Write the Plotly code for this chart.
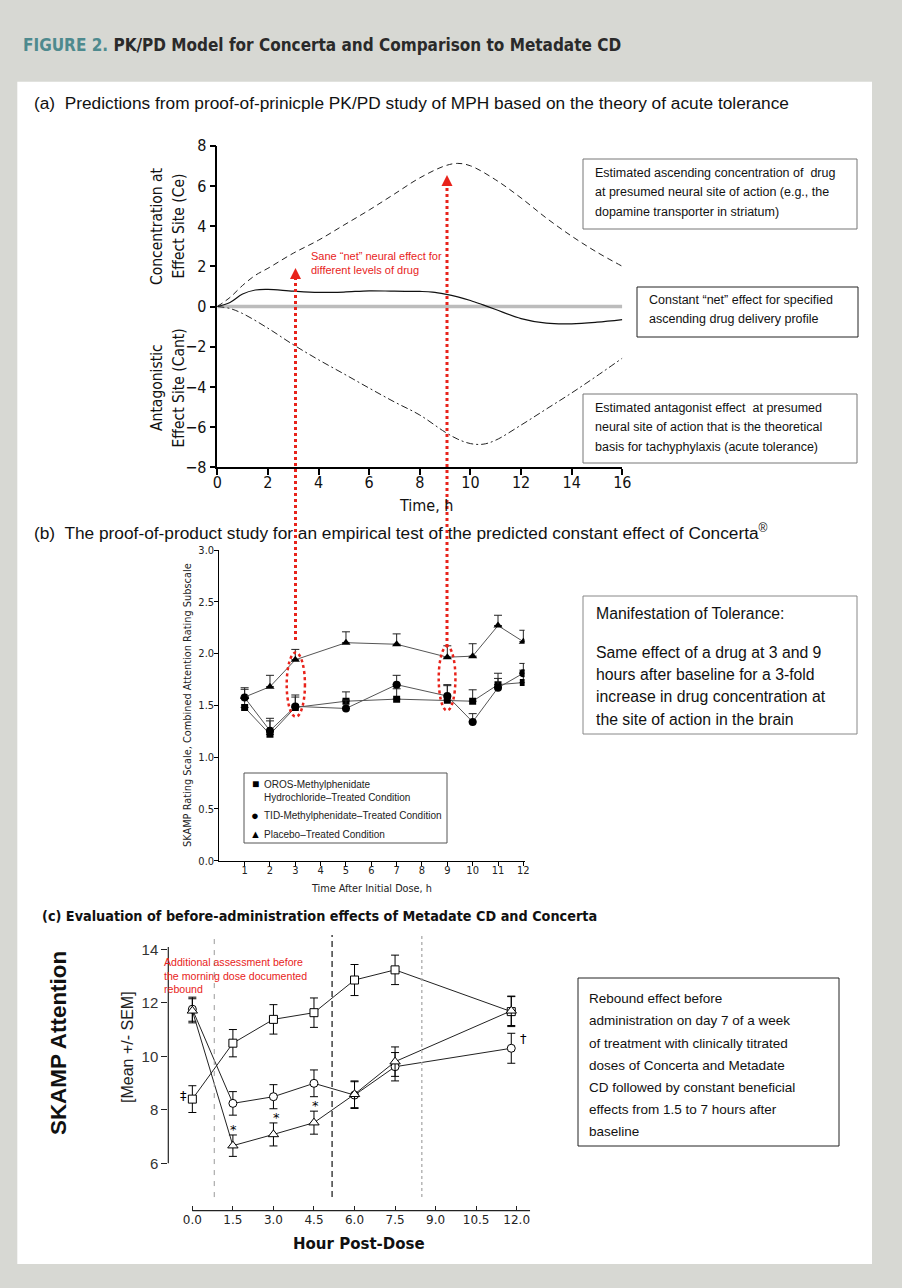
import plotly.graph_objects as go

W, H = 902, 1288


def fx(px):
    return px / W


def fy(py):
    return 1 - py / H


NARROW = "DejaVu Sans Condensed, Liberation Sans Narrow, Liberation Sans, sans-serif"
SANS = "Liberation Sans, Arial, sans-serif"
DEJAVU = "DejaVu Sans, sans-serif"
RED = "#e8231b"

# ---------------- Panel (a): PK/PD model ----------------
t_ce = [0, 0.5, 1, 1.5, 2, 3, 4, 5, 6, 7, 8, 9, 9.5, 10, 11, 12, 13, 14, 15, 16]
ce = [0, 0.45, 1.05, 1.55, 1.9, 2.65, 3.3, 4.05, 4.8, 5.6, 6.4, 7.0, 7.12, 7.0, 6.3, 5.4, 4.4, 3.5, 2.7, 2.0]

t_cant = [0, 0.5, 1, 2, 3, 4, 5, 6, 7, 8, 9, 9.5, 10, 10.5, 11, 12, 13, 14, 15, 16]
cant = [0, -0.1, -0.35, -1.08, -1.9, -2.65, -3.35, -4.06, -4.75, -5.4, -6.25, -6.6, -6.82, -6.85, -6.65,
        -5.9, -5.1, -4.3, -3.45, -2.57]

t_net = [0, 0.5, 1, 1.5, 2, 3, 4, 5, 6, 7, 8, 8.5, 9, 9.5, 10, 10.5, 11, 12, 13, 14, 15, 16]
net = [0, 0.2, 0.62, 0.82, 0.85, 0.76, 0.7, 0.72, 0.78, 0.76, 0.75, 0.72, 0.62, 0.48, 0.3, 0.08, -0.15,
       -0.6, -0.83, -0.86, -0.78, -0.65]

t_ref = [0, 16]
ref = [0, 0]

ticks_a_x = [0, 2, 4, 6, 8, 10, 12, 14, 16]
ticks_a_y = [-8, -6, -4, -2, 0, 2, 4, 6, 8]

# ---------------- Panel (b): SKAMP by hour ----------------
hours_b = [1, 2, 3, 5, 7, 9, 10, 11, 12]
oros = [1.48, 1.22, 1.48, 1.54, 1.56, 1.55, 1.54, 1.70, 1.72]
oros_err = [0.09, 0.13, 0.10, 0.09, 0.10, 0.15, 0.11, 0.11, 0.12]
tid = [1.575, 1.255, 1.49, 1.47, 1.70, 1.59, 1.34, 1.67, 1.81]
tid_err = [0.08, 0.12, 0.11, 0.08, 0.09, 0.10, 0.08, 0.09, 0.095]
placebo = [1.58, 1.68, 1.94, 2.105, 2.09, 1.965, 1.975, 2.27, 2.115]
placebo_err = [0.09, 0.11, 0.10, 0.105, 0.10, 0.11, 0.12, 0.10, 0.11]
ticks_b_x = [1, 2, 3, 4, 5, 6, 7, 8, 9, 10, 11, 12]
ticks_b_y = [0.0, 0.5, 1.0, 1.5, 2.0, 2.5, 3.0]
legend_b = ["OROS-Methylphenidate", "Hydrochloride\u2013Treated Condition",
            "TID-Methylphenidate\u2013Treated Condition", "Placebo\u2013Treated Condition"]

# ---------------- Panel (c): SKAMP Attention ----------------
hours_c = [0, 1.5, 3.0, 4.5, 6.0, 7.5, 11.8]
sq_c = [8.40, 10.49, 11.38, 11.63, 12.85, 13.23, 11.67]
sq_err = [0.5, 0.51, 0.55, 0.55, 0.58, 0.55, 0.56]
ci_c = [11.76, 8.24, 8.49, 8.99, 8.55, 9.61, 10.30]
ci_err = [0.45, 0.44, 0.45, 0.5, 0.5, 0.53, 0.56]
tr_c = [11.7, 6.66, 7.08, 7.52, 8.58, 9.80, 11.70]
tr_err = [0.45, 0.4, 0.43, 0.43, 0.5, 0.55, 0.55]
ticks_c_x = [0, 1.5, 3.0, 4.5, 6.0, 7.5, 9.0, 10.5, 12.0]
ticks_c_y = [6, 8, 10, 12, 14]

fig = go.Figure()

# panel a traces
fig.add_trace(go.Scatter(x=t_ref, y=ref, mode="lines", line=dict(color="#bcbcbc", width=3.5),
                         xaxis="x", yaxis="y", showlegend=False, hoverinfo="skip"))
fig.add_trace(go.Scatter(x=t_ce, y=ce, mode="lines", line=dict(color="#222", width=1, dash="6px,4px", shape="spline"),
                         xaxis="x", yaxis="y", showlegend=False))
fig.add_trace(go.Scatter(x=t_cant, y=cant, mode="lines",
                         line=dict(color="#222", width=1, dash="7px,3px,2px,3px", shape="spline"),
                         xaxis="x", yaxis="y", showlegend=False))
fig.add_trace(go.Scatter(x=t_net, y=net, mode="lines", line=dict(color="#111", width=1.2, shape="spline"),
                         xaxis="x", yaxis="y", showlegend=False))


# panel b traces
def eb_up(err):
    return dict(type="data", symmetric=False, array=err, arrayminus=[0] * len(err),
                color="#222", thickness=1, width=4)


fig.add_trace(go.Scatter(x=hours_b, y=oros, mode="lines+markers", name="OROS",
                         line=dict(color="#555", width=1), marker=dict(symbol="square", size=7, color="black"),
                         error_y=eb_up(oros_err), xaxis="x2", yaxis="y2", showlegend=False))
fig.add_trace(go.Scatter(x=hours_b, y=tid, mode="lines+markers", name="TID",
                         line=dict(color="#555", width=1), marker=dict(symbol="circle", size=8, color="black"),
                         error_y=eb_up(tid_err), xaxis="x2", yaxis="y2", showlegend=False))
fig.add_trace(go.Scatter(x=hours_b, y=placebo, mode="lines+markers", name="Placebo",
                         line=dict(color="#555", width=1), marker=dict(symbol="triangle-up", size=8, color="black"),
                         error_y=eb_up(placebo_err), xaxis="x2", yaxis="y2", showlegend=False))


# panel c traces
def eb(err):
    return dict(type="data", array=err, color="black", thickness=1, width=4)


for ys, er, sym, sz in [(sq_c, sq_err, "square", 8), (ci_c, ci_err, "circle", 8), (tr_c, tr_err, "triangle-up", 9)]:
    fig.add_trace(go.Scatter(x=hours_c, y=ys, mode="lines+markers",
                             line=dict(color="#222", width=1),
                             marker=dict(symbol=sym, size=sz, color="white", line=dict(color="black", width=1)),
                             error_y=eb(er), xaxis="x3", yaxis="y3", showlegend=False))

axis_common = dict(showgrid=False, zeroline=False, ticks="outside", tickcolor="black", linecolor="black")

fig.update_layout(
    width=W, height=H, margin=dict(l=0, r=0, t=0, b=0, pad=0, autoexpand=False),
    paper_bgcolor="#d7d8d3", plot_bgcolor="rgba(0,0,0,0)",
    showlegend=False,
    xaxis=dict(domain=[fx(217.3), fx(622.3)], range=[0, 16], anchor="y", tickvals=ticks_a_x,
               showline=True, linewidth=1.5, ticklen=6, tickwidth=1.5, ticklabelstandoff=-6,
               tickfont=dict(family=NARROW, size=16, color="#111"), **axis_common),
    yaxis=dict(domain=[fy(467.3), fy(145.7)], range=[-8, 8], anchor="x", tickvals=ticks_a_y,
               showline=True, linewidth=1.5, ticklen=6, tickwidth=1.5,
               tickfont=dict(family=NARROW, size=16, color="#111"), **axis_common),
    xaxis2=dict(domain=[fx(219.3), fx(524.6)], range=[0, 12.05], anchor="y2", tickvals=ticks_b_x,
                showline=True, linewidth=1, ticklen=4, tickwidth=1, ticklabelstandoff=-5,
                tickfont=dict(family=NARROW, size=11, color="#222"), **axis_common),
    yaxis2=dict(domain=[fy(860.7), fy(550)], range=[0, 3], anchor="x2", tickvals=ticks_b_y, tickformat=".1f",
                showline=True, linewidth=1, ticklen=4, tickwidth=1, ticklabelstandoff=-2,
                tickfont=dict(family=NARROW, size=11, color="#222"), **axis_common),
    xaxis3=dict(domain=[fx(168.3), fx(530.2)], range=[-0.89, 12.5], anchor="y3", tickvals=ticks_c_x,
                ticktext=["%.1f" % v for v in ticks_c_x], showline=False, showgrid=False, zeroline=False,
                ticks="inside", ticklen=5, tickwidth=1, tickcolor="#222",
                tickfont=dict(family=DEJAVU, size=12, color="#222")),
    yaxis3=dict(domain=[fy(1210.7), fy(933.2)], range=[4.23, 14.6], anchor="x3", tickvals=ticks_c_y,
                showline=False, showgrid=False, zeroline=False, ticks="outside", ticklen=6, tickwidth=1,
                tickcolor="#222", tickfont=dict(family=SANS, size=15, color="#333")),
)

shapes = []
# white panel
shapes.append(dict(type="rect", xref="paper", yref="paper", x0=fx(17.3), x1=fx(872), y0=fy(1264), y1=fy(81.7),
                   fillcolor="white", line=dict(width=0), layer="below"))


def box(x0, y0, x1, y1, color):
    shapes.append(dict(type="rect", xref="paper", yref="paper", x0=fx(x0), x1=fx(x1), y0=fy(y1), y1=fy(y0),
                       fillcolor="white", line=dict(color=color, width=1), layer="above"))


box(583, 159, 857, 229, "#777")
box(637, 287, 858, 337, "#222")
box(583, 394, 857, 463, "#777")
box(583, 596, 857, 734, "#888")
box(244, 773, 447, 843, "#555")
box(578, 978, 839, 1146, "#222")

# panel c axis lines (detached)
shapes.append(dict(type="line", xref="x3 domain", yref="y3", x0=0, x1=0, y0=6, y1=14.08,
                   line=dict(color="#222", width=1.2)))
shapes.append(dict(type="line", xref="x3", yref="y3 domain", x0=0, x1=12.5, y0=0, y1=0,
                   line=dict(color="#222", width=1.2)))
# panel c vertical reference lines
shapes.append(dict(type="line", xref="x3", yref="y3", x0=0.81, x1=0.81, y0=4.74, y1=14.53,
                   line=dict(color="#999", width=1, dash="5px,6px")))
shapes.append(dict(type="line", xref="x3", yref="y3", x0=5.17, x1=5.17, y0=4.74, y1=14.53,
                   line=dict(color="#222", width=1.3, dash="6px,4px")))
shapes.append(dict(type="line", xref="x3", yref="y3", x0=8.49, x1=8.49, y0=4.74, y1=14.53,
                   line=dict(color="#aaa", width=1.3, dash="3px,3px")))

# red ellipses in panel b
shapes.append(dict(type="circle", xref="x2", yref="y2", x0=2.66, x1=3.38, y0=1.39, y1=2.01,
                   line=dict(color=RED, width=2.5, dash="dot")))
shapes.append(dict(type="circle", xref="x2", yref="y2", x0=8.66, x1=9.32, y0=1.45, y1=2.07,
                   line=dict(color=RED, width=2.5, dash="dot")))

# red dotted arrows linking panels b and a
for xp, ybot, ytip in [(295.5, 640, 268), (447, 647, 175)]:
    shapes.append(dict(type="line", xref="paper", yref="paper", x0=fx(xp), x1=fx(xp), y0=fy(ybot), y1=fy(ytip + 10),
                       line=dict(color=RED, width=3, dash="dot"), layer="above"))
    path = "M %f %f L %f %f L %f %f Z" % (fx(xp), fy(ytip), fx(xp - 5.5), fy(ytip + 11), fx(xp + 5.5), fy(ytip + 11))
    shapes.append(dict(type="path", xref="paper", yref="paper", path=path, fillcolor=RED,
                       line=dict(color=RED, width=0), layer="above"))

fig.update_layout(shapes=shapes)


def text(px, py, s, size, family=SANS, color="#111", anchor="left", angle=0, yanchor="middle"):
    fig.add_annotation(x=fx(px), y=fy(py), xref="paper", yref="paper", text=s, showarrow=False,
                       xanchor=anchor, yanchor=yanchor, textangle=angle,
                       font=dict(size=size, family=family, color=color))


# title and headings
text(21, 45, "<b><span style='color:#4e8a8e'>FIGURE 2.</span> PK/PD Model for Concerta and Comparison to Metadate CD</b>",
     17, NARROW, "#2a2a2a")
text(32, 103, "(a)\u00a0 Predictions from proof-of-prinicple PK/PD study of MPH based on the theory of acute tolerance",
     17.3, SANS, "#111")
text(32, 532, "(b)\u00a0 The proof-of-product study for an empirical test of the predicted constant effect of Concerta<sup>®</sup>",
     17.3, SANS, "#111")
text(40, 916, "<b>(c) Evaluation of before-administration effects of Metadate CD and Concerta</b>", 14.3, NARROW, "#111")

# panel a axis titles
text(157, 226, "Concentration at", 15.5, NARROW, "#111", "center", -90)
text(178.5, 226, "Effect Site (Ce)", 15.5, NARROW, "#111", "center", -90)
text(157, 388, "Antagonistic", 15.5, NARROW, "#111", "center", -90)
text(178.5, 388, "Effect Site (Cant)", 15.5, NARROW, "#111", "center", -90)
text(426, 506, "Time, h", 16, NARROW, "#111", "center")

text(309, 256, "Sane \u201cnet\u201d neural effect for", 11, SANS, RED)
text(309, 270, "different levels of drug", 11, SANS, RED)

for s, yy in zip(["Estimated ascending concentration of \u00a0drug",
                  "at presumed neural site of action (e.g., the",
                  "dopamine transporter in striatum)"], [173.3, 192.3, 211.7]):
    text(593, yy, s, 12.5)
for s, yy in zip(["Constant \u201cnet\u201d effect for specified", "ascending drug delivery profile"], [300, 319]):
    text(646.5, yy, s, 12.5)
for s, yy in zip(["Estimated antagonist effect \u00a0at presumed",
                  "neural site of action that is the theoretical",
                  "basis for tachyphylaxis (acute tolerance)"], [408.3, 427.3, 446.7]):
    text(593, yy, s, 12.5)

# panel b titles, legend, box
text(187, 705, "SKAMP Rating Scale, Combined Attention Rating Subscale", 10.9, NARROW, "#222", "center", -90)
text(371.5, 888, "Time After Initial Dose, h", 10.8, NARROW, "#222", "center")

text(255, 784.3, "\u25a0", 12, SANS, "black", "center")
text(255, 815.7, "\u25cf", 13, SANS, "black", "center")
text(255, 834, "\u25b2", 11, SANS, "black", "center")
for s, yy in zip(legend_b, [784.3, 797.7, 815.7, 834]):
    text(262, yy, s, 10, SANS, "#222")

for s, yy in zip(["Manifestation of Tolerance:", "Same effect of a drug at 3 and 9",
                  "hours after baseline for a 3-fold", "increase in drug concentration at",
                  "the site of action in the brain"], [614, 652, 674.5, 696.5, 719]):
    text(594, yy, s, 15.8)

# panel c titles, markers, box
text(58, 1043, "<b>SKAMP Attention</b>", 22.4, SANS, "#111", "center", -90)
text(127, 1047, "[Mean +/- SEM]", 16, SANS, "#222", "center", -90)
text(359, 1244, "<b>Hour Post-Dose</b>", 15, DEJAVU, "#111", "center")

for s, yy in zip(["Additional assessment before", "the morning dose documented", "rebound"], [962, 975.5, 989]):
    text(161.5, yy, s, 10.6, SANS, RED)

for s, xx, yy in [("\u2021", -0.34, 8.55), ("*", 1.52, 7.25), ("*", 3.13, 7.70), ("*", 4.57, 8.15),
                  ("\u2020", 12.25, 10.67)]:
    fig.add_annotation(x=xx, y=yy, xref="x3", yref="y3", text=s, showarrow=False,
                       font=dict(size=13, family=DEJAVU, color="black"))

for s, yy in zip(["Rebound effect before", "administration on day 7 of a week",
                  "of treatment with clinically titrated", "doses of Concerta and Metadate",
                  "CD followed by constant beneficial", "effects from 1.5 to 7 hours after", "baseline"],
                 [998.3, 1020.3, 1043, 1065, 1087.3, 1109.5, 1131.5]):
    text(587, yy, s, 13.5)

POST = ("document.documentElement.style.margin='0';document.body.style.margin='0';"
        "document.body.style.overflow='hidden';")

fig.write_html("out.html", config={"displayModeBar": False}, post_script=POST)
